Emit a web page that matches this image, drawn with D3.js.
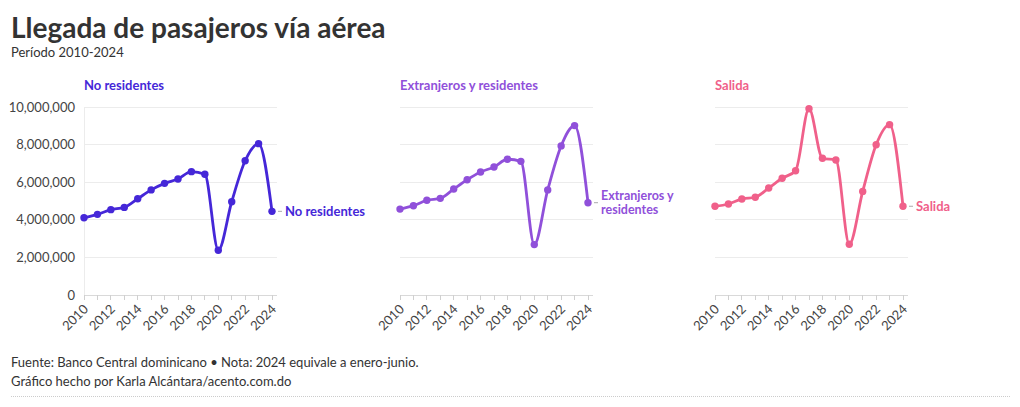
<!DOCTYPE html>
<html>
<head>
<meta charset="utf-8">
<script src="https://cdn.jsdelivr.net/npm/d3@7"></script>
<style>
  html, body { margin: 0; padding: 0; background: #fff; }
  svg { display: block; font-family: "Lato", "Noto Sans", sans-serif; }
</style>
</head>
<body>
<svg id="chart" width="1020" height="407"></svg>
<script>
const years = [2010,2011,2012,2013,2014,2015,2016,2017,2018,2019,2020,2021,2022,2023,2024];
const noResidentes = [4110000,4290000,4540000,4660000,5120000,5590000,5940000,6170000,6560000,6420000,2380000,4960000,7140000,8050000,4450000];
const extranjerosResidentes = [4570000,4750000,5040000,5140000,5640000,6130000,6540000,6810000,7220000,7110000,2680000,5590000,7930000,9010000,4910000];
const salida = [4720000,4840000,5110000,5200000,5690000,6210000,6610000,9910000,7270000,7180000,2700000,5510000,7990000,9060000,4720000];
const panelTitles = ["No residentes", "Extranjeros y residentes", "Salida"];
const endLabels = [["No residentes"], ["Extranjeros y", "residentes"], ["Salida"]];
const colors = ["#4527d8", "#9050da", "#f0608a"];
const yTicks = [0, 2000000, 4000000, 6000000, 8000000, 10000000];
const xTickLabels = [2010,2012,2014,2016,2018,2020,2022,2024];

const seriesList = [noResidentes, extranjerosResidentes, salida];
const svg = d3.select("#chart");

// Header
svg.append("text").attr("x", 11).attr("y", 38)
  .attr("font-size", 28).attr("font-weight", 700).attr("fill", "#333")
  .text("Llegada de pasajeros vía aérea");
svg.append("text").attr("x", 11).attr("y", 57)
  .attr("font-size", 13).attr("fill", "#333")
  .text("Período 2010-2024");

const panelX = [84, 400, 715];
const panelW = 188;
const y = d3.scaleLinear().domain([0, 10000000]).range([295, 107]);
const fmt = d3.format(",");

panelX.forEach((px, i) => {
  const x = d3.scaleLinear().domain([2010, 2024]).range([px, px + panelW]);
  const g = svg.append("g");
  const color = colors[i];

  // panel title
  g.append("text").attr("x", px).attr("y", 90)
    .attr("font-size", 13).attr("font-weight", 700).attr("fill", color)
    .text(panelTitles[i]);

  // gridlines
  g.selectAll(".grid").data(yTicks).enter().append("line")
    .attr("x1", px).attr("x2", px + panelW + 5)
    .attr("y1", d => y(d)).attr("y2", d => y(d))
    .attr("stroke", d => d === 0 ? "#d9d9d9" : "#ececec").attr("stroke-width", 1)
    .attr("shape-rendering", "crispEdges");

  if (i === 0) {
    g.append("line").attr("x1", px).attr("x2", px)
      .attr("y1", y(10000000)).attr("y2", y(0))
      .attr("stroke", "#ececec").attr("shape-rendering", "crispEdges");
    g.selectAll(".ylab").data(yTicks).enter().append("text")
      .attr("x", px - 9).attr("y", d => y(d) + 4.5)
      .attr("text-anchor", "end").attr("font-size", 13).attr("fill", "#444")
      .text(d => fmt(d));
  }

  // x ticks
  g.selectAll(".xt").data(years).enter().append("line")
    .attr("x1", d => x(d)).attr("x2", d => x(d))
    .attr("y1", y(0)).attr("y2", y(0) + 5)
    .attr("stroke", "#d0d0d0").attr("shape-rendering", "crispEdges");
  g.selectAll(".xl").data(xTickLabels).enter().append("text")
    .attr("transform", d => `translate(${x(d) + 5},${y(0) + 15}) rotate(-45)`)
    .attr("text-anchor", "end").attr("font-size", 13).attr("fill", "#444")
    .text(d => d);

  const data = years.map((yr, k) => ({ yr, v: seriesList[i][k] }));
  const line = d3.line().x(d => x(d.yr)).y(d => y(d.v)).curve(d3.curveMonotoneX);
  g.append("path").datum(data).attr("d", line)
    .attr("fill", "none").attr("stroke", color).attr("stroke-width", 2.8)
    .attr("stroke-linejoin", "round").attr("stroke-linecap", "round");
  g.selectAll(".dot").data(data).enter().append("circle")
    .attr("cx", d => x(d.yr)).attr("cy", d => y(d.v)).attr("r", 3.7)
    .attr("fill", color);

  // end label
  const last = data[data.length - 1];
  const lx = x(last.yr), ly = y(last.v);
  g.append("line").attr("x1", lx + 6).attr("x2", lx + 10)
    .attr("y1", ly).attr("y2", ly).attr("stroke", "#aaa").attr("stroke-width", 1);
  const lines = endLabels[i];
  const lh = 13.5;
  const startY = ly - (lines.length - 1) * lh / 2 + 4.5;
  lines.forEach((t, k) => {
    g.append("text").attr("x", lx + 13).attr("y", startY + k * lh)
      .attr("font-size", lines.length > 1 ? 12.5 : 13).attr("font-weight", 700).attr("fill", color)
      .text(t);
  });
});

// Footer
svg.append("text").attr("x", 11).attr("y", 367)
  .attr("font-size", 13).attr("fill", "#333")
  .text("Fuente: Banco Central dominicano • Nota: 2024 equivale a enero-junio.");
svg.append("text").attr("x", 11).attr("y", 386)
  .attr("font-size", 13).attr("fill", "#333")
  .text("Gráfico hecho por Karla Alcántara/acento.com.do");
svg.append("line").attr("x1", 11).attr("x2", 1010).attr("y1", 396.5).attr("y2", 396.5)
  .attr("stroke", "#ccc").attr("stroke-dasharray", "1,1");
</script>
</body>
</html>
